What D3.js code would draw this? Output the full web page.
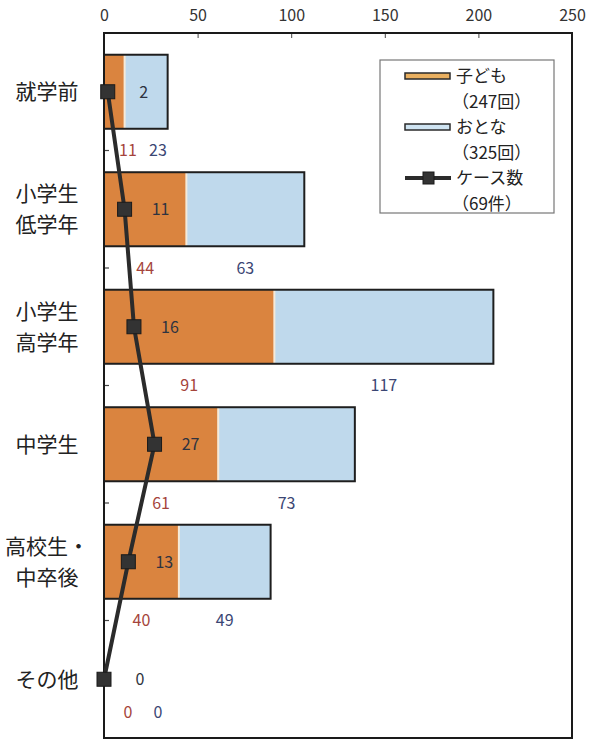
<!DOCTYPE html>
<html><head><meta charset="utf-8">
<script src="https://cdn.jsdelivr.net/npm/d3@7"></script>
<style>
html,body{margin:0;padding:0;background:#fff;}
svg{display:block;font-family:"Noto Sans CJK JP","Noto Sans",sans-serif;}
</style></head>
<body>
<svg id="chart" width="591" height="741"></svg>
<script>
// ---- data ----
const categories = ["就学前", "小学生\n低学年", "小学生\n高学年", "中学生", "高校生・\n中卒後", "その他"];
const childCounts = [11, 44, 91, 61, 40, 0];     // 子ども
const adultCounts = [23, 63, 117, 73, 49, 0];    // おとな
const caseCounts  = [2, 11, 16, 27, 13, 0];      // ケース数
const xTicks = [0, 50, 100, 150, 200, 250];
const legendNames = ["子ども", "おとな", "ケース数"];
const legendSubs  = ["（247回）", "（325回）", "（69件）"];

// ---- layout ----
const svg = d3.select("#chart");
const L = 104, R = 572, T = 33, B = 738;
const x = d3.scaleLinear().domain([0, 250]).range([L, R]);
const y = d3.scaleBand().domain(categories).range([T, B]).paddingInner(0.37).paddingOuter(0.185);
const step = y.step();

const cChild = "#da843f", cAdult = "#bfd9ec", cLine = "#2b2b2b";
const rows = categories.map((c, i) => ({c, child: childCounts[i], adult: adultCounts[i], cases: caseCounts[i]}));

// top axis
const topAxis = svg.append("g").attr("transform", `translate(0,${T})`)
  .call(d3.axisTop(x).tickValues(xTicks).tickSize(-5).tickPadding(12));
topAxis.select(".domain").remove();
topAxis.selectAll(".tick line").attr("stroke", "#444").filter(d => d === 0 || d === 250).remove();
topAxis.selectAll("text").attr("font-size", 16).attr("fill", "#333")
  .attr("font-family", "'Noto Sans CJK JP', sans-serif");

// left ticks at category boundaries (inward)
categories.slice(1).forEach((c, i) => {
  const yy = y(c) - step * y.paddingInner() / 2;
  svg.append("line").attr("x1", L).attr("x2", L + 5).attr("y1", yy).attr("y2", yy)
    .attr("stroke", "#444").attr("stroke-width", 1.2);
});

// bars
const bars = svg.append("g");
rows.forEach(r => {
  if (r.child + r.adult === 0) return;
  const yy = y(r.c), h = y.bandwidth();
  bars.append("rect").attr("x", x(0)).attr("y", yy).attr("width", x(r.child) - x(0)).attr("height", h)
    .attr("fill", cChild);
  bars.append("rect").attr("x", x(r.child)).attr("y", yy).attr("width", x(r.child + r.adult) - x(r.child)).attr("height", h)
    .attr("fill", cAdult);
  bars.append("line").attr("x1", x(r.child)).attr("x2", x(r.child)).attr("y1", yy).attr("y2", yy + h)
    .attr("stroke", "#f6ead8").attr("stroke-width", 2);
  bars.append("rect").attr("x", x(0)).attr("y", yy).attr("width", x(r.child + r.adult) - x(0)).attr("height", h)
    .attr("fill", "none").attr("stroke", "#1e1e1e").attr("stroke-width", 2);
});

// frame
svg.append("rect").attr("x", L).attr("y", T).attr("width", R - L).attr("height", B - T)
  .attr("fill", "none").attr("stroke", "#1a1a1a").attr("stroke-width", 2);

// value labels beneath bars
rows.forEach(r => {
  const yy = Math.min(y(r.c) + y.bandwidth() + step * y.paddingInner() / 2, B - 26);
  const cx = Math.max((x(0) + x(r.child)) / 2, x(0) + 24);
  const ax = Math.max((x(r.child) + x(r.child + r.adult)) / 2, cx + 30);
  svg.append("text").attr("x", cx).attr("y", yy).attr("dy", "0.36em").attr("text-anchor", "middle")
    .attr("font-size", 16).attr("fill", "#a5443b").text(r.child);
  svg.append("text").attr("x", ax).attr("y", yy).attr("dy", "0.36em").attr("text-anchor", "middle")
    .attr("font-size", 16).attr("fill", "#3b4674").text(r.adult);
});

// category labels
rows.forEach(r => {
  const lines = r.c.split("\n");
  const my = y(r.c) + y.bandwidth() / 2;
  const lh = 31;
  lines.forEach((t, j) => {
    svg.append("text").attr("x", 47).attr("y", my + (j - (lines.length - 1) / 2) * lh)
      .attr("dy", "0.36em").attr("text-anchor", "middle").attr("font-size", 21).attr("fill", "#222").text(t);
  });
});

// case line
const midY = d => y(d.c) + y.bandwidth() / 2;
svg.append("path").datum(rows)
  .attr("d", d3.line().x(d => x(d.cases)).y(midY))
  .attr("fill", "none").attr("stroke", cLine).attr("stroke-width", 4);
svg.selectAll(".mk").data(rows).join("rect").attr("class", "mk")
  .attr("x", d => x(d.cases) - 7).attr("y", d => midY(d) - 7).attr("width", 14).attr("height", 14)
  .attr("fill", "#333").attr("stroke", "#1a1a1a").attr("stroke-width", 1);
svg.selectAll(".cl").data(rows).join("text").attr("class", "cl")
  .attr("x", d => x(d.cases) + 36).attr("y", midY).attr("dy", "0.36em").attr("text-anchor", "middle")
  .attr("font-size", 16).attr("fill", "#2e3340").text(d => d.cases);

// legend
const lg = svg.append("g");
lg.append("rect").attr("x", 380).attr("y", 60).attr("width", 174).attr("height", 153)
  .attr("fill", "#fff").attr("stroke", "#777").attr("stroke-width", 1.2);
const itemY = [76, 127, 178];
[cChild, cAdult].forEach((col, i) => {
  lg.append("rect").attr("x", 405).attr("y", itemY[i] - 3).attr("width", 45).attr("height", 6)
    .attr("fill", i === 0 ? "#eab060" : "#cfe4f2").attr("stroke", "#2a2a2a").attr("stroke-width", 1.5);
});
lg.append("line").attr("x1", 405).attr("x2", 451).attr("y1", itemY[2]).attr("y2", itemY[2])
  .attr("stroke", cLine).attr("stroke-width", 4);
lg.append("rect").attr("x", 423).attr("y", itemY[2] - 6).attr("width", 11).attr("height", 12)
  .attr("fill", "#333").attr("stroke", "#1a1a1a");
legendNames.forEach((n, i) => {
  lg.append("text").attr("x", 456).attr("y", itemY[i]).attr("dy", "0.36em")
    .attr("font-size", 17).attr("fill", "#222").text(n);
  lg.append("text").attr("x", 452).attr("y", itemY[i] + 26).attr("dy", "0.36em")
    .attr("font-size", 17).attr("fill", "#222").text(legendSubs[i]);
});
</script>
</body></html>
